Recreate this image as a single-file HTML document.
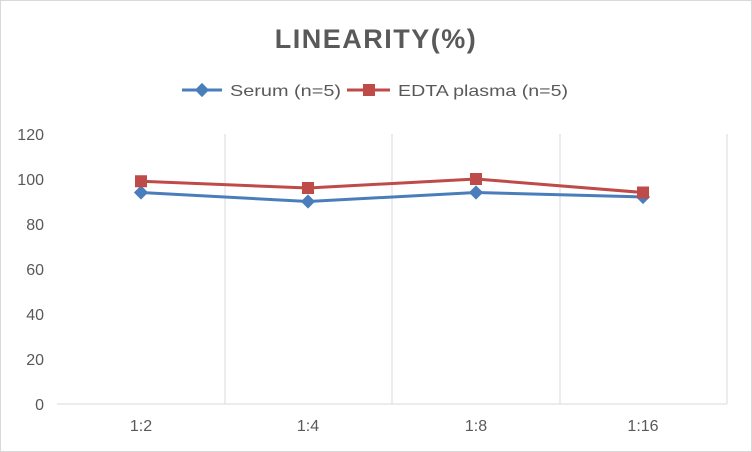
<!DOCTYPE html>
<html><head><style>
body{margin:0;background:#fff;}
svg{display:block;font-family:"Liberation Sans",sans-serif;}
</style></head><body>
<svg width="752" height="452" viewBox="0 0 752 452">
<rect x="0.5" y="0.5" width="751" height="451" fill="#fff" stroke="#d9d9d9"/>
<text x="376" y="48" text-anchor="middle" font-size="27" font-weight="bold" fill="#595959" letter-spacing="1.5">LINEARITY(%)</text>
<line x1="182" y1="90" x2="222" y2="90" stroke="#4a7ebb" stroke-width="3"/>
<rect x="197" y="85" width="10" height="10" fill="#4a7ebb" transform="rotate(45 202 90)"/>
<text x="230" y="96" font-size="16" fill="#595959" textLength="111" lengthAdjust="spacingAndGlyphs">Serum (n=5)</text>
<line x1="347" y1="90" x2="390" y2="90" stroke="#be4b48" stroke-width="3"/>
<rect x="363" y="84" width="12" height="12" fill="#be4b48"/>
<text x="398" y="96" font-size="16" fill="#595959" textLength="170" lengthAdjust="spacingAndGlyphs">EDTA plasma (n=5)</text>
<g stroke="#d9d9d9" stroke-width="1">
<line x1="225" y1="134" x2="225" y2="404"/>
<line x1="392" y1="134" x2="392" y2="404"/>
<line x1="560" y1="134" x2="560" y2="404"/>
<line x1="727" y1="134" x2="727" y2="404"/>
<line x1="57" y1="404" x2="727" y2="404"/>
</g>
<g font-size="16" fill="#595959" text-anchor="end">
<text x="44" y="410">0</text>
<text x="44" y="365">20</text>
<text x="44" y="320">40</text>
<text x="44" y="275">60</text>
<text x="44" y="230">80</text>
<text x="44" y="185">100</text>
<text x="44" y="140">120</text>
</g>
<g font-size="16" fill="#595959" text-anchor="middle">
<text x="141" y="431">1:2</text>
<text x="308" y="431">1:4</text>
<text x="476" y="431">1:8</text>
<text x="643" y="431">1:16</text>
</g>
<polyline points="141,192.5 308,201.5 476,192.5 643,197" fill="none" stroke="#4a7ebb" stroke-width="3"/>
<g fill="#4a7ebb">
<rect x="136" y="187.5" width="10" height="10" transform="rotate(45 141 192.5)"/>
<rect x="303" y="196.5" width="10" height="10" transform="rotate(45 308 201.5)"/>
<rect x="471" y="187.5" width="10" height="10" transform="rotate(45 476 192.5)"/>
<rect x="638" y="192" width="10" height="10" transform="rotate(45 643 197)"/>
</g>
<polyline points="141,181.25 308,188 476,179 643,192.5" fill="none" stroke="#be4b48" stroke-width="3"/>
<g fill="#be4b48">
<rect x="135" y="175.25" width="12" height="12"/>
<rect x="302" y="182" width="12" height="12"/>
<rect x="470" y="173" width="12" height="12"/>
<rect x="637" y="186.5" width="12" height="12"/>
</g>
</svg>
</body></html>
